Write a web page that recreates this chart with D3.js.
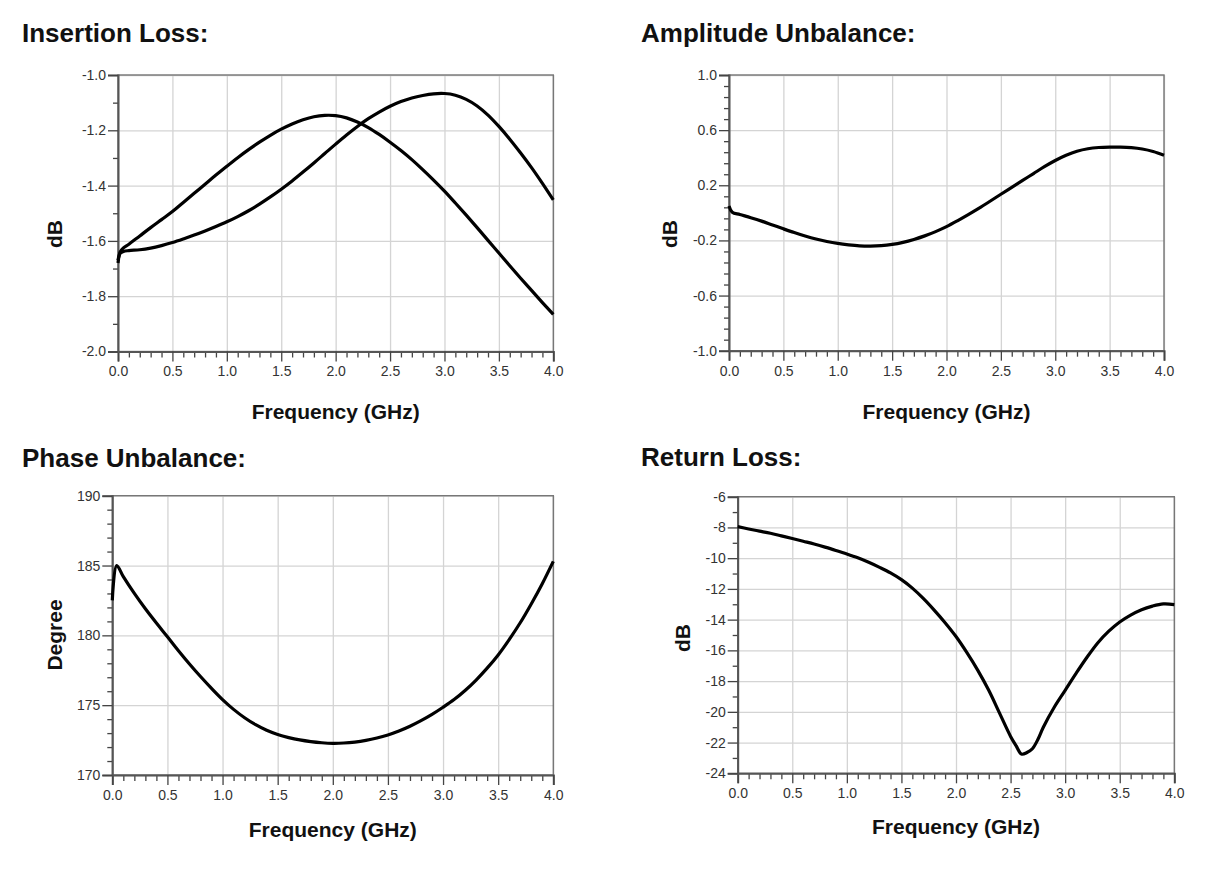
<!DOCTYPE html>
<html>
<head>
<meta charset="utf-8">
<script src="https://cdn.jsdelivr.net/npm/d3@7"></script>
<style>
  body { margin: 0; background: #fff; }
  svg { font-family: "Liberation Sans", Arial, sans-serif; }
  .tick text { fill: #333; font-size: 14px; }
  .title { font-size: 26px; font-weight: bold; fill: #111; }
  .axis-label { font-size: 21px; font-weight: bold; fill: #111; }
</style>
</head>
<body>
<div id="chart"></div>
<script>
// x ticks shared by all four panels
const freqMajor = [0.0, 0.5, 1.0, 1.5, 2.0, 2.5, 3.0, 3.5, 4.0];
const freqMinor = [0.1, 0.2, 0.3, 0.4, 0.6, 0.7, 0.8, 0.9, 1.1, 1.2, 1.3, 1.4, 1.6, 1.7, 1.8, 1.9,
  2.1, 2.2, 2.3, 2.4, 2.6, 2.7, 2.8, 2.9, 3.1, 3.2, 3.3, 3.4, 3.6, 3.7, 3.8, 3.9];

// Insertion loss (two outputs)
const ilFreq = [0, 0.02, 0.05, 0.1, 0.2, 0.3, 0.4, 0.5, 0.6, 0.7, 0.8, 0.9, 1.0, 1.1, 1.2, 1.3, 1.4,
  1.5, 1.6, 1.7, 1.8, 1.9, 2.0, 2.1, 2.2, 2.3, 2.4, 2.5, 2.6, 2.7, 2.8, 2.9, 3.0, 3.1, 3.2, 3.3, 3.4,
  3.5, 3.6, 3.7, 3.8, 3.9, 4.0];
const ilPortA = [-1.68, -1.64, -1.625, -1.612, -1.582, -1.552, -1.523, -1.494, -1.461, -1.428, -1.395,
  -1.362, -1.33, -1.299, -1.27, -1.243, -1.218, -1.196, -1.177, -1.162, -1.151, -1.146, -1.147, -1.155,
  -1.17, -1.19, -1.215, -1.243, -1.273, -1.306, -1.342, -1.38, -1.42, -1.463, -1.507, -1.552, -1.598,
  -1.644, -1.69, -1.735, -1.779, -1.823, -1.866];
const ilPortB = [-1.67, -1.645, -1.638, -1.635, -1.632, -1.626, -1.617, -1.606, -1.593, -1.579, -1.564,
  -1.548, -1.531, -1.512, -1.491, -1.467, -1.441, -1.413, -1.383, -1.351, -1.318, -1.284, -1.25, -1.217,
  -1.186, -1.158, -1.134, -1.113, -1.096, -1.083, -1.074, -1.068, -1.067, -1.073, -1.088, -1.112, -1.145,
  -1.186, -1.232, -1.282, -1.335, -1.392, -1.452];
const ilMajor = [-2.0, -1.8, -1.6, -1.4, -1.2, -1.0];
const ilMinor = [-1.9, -1.7, -1.5, -1.3, -1.1];

// Amplitude unbalance
const auFreq = [0, 0.03, 0.1, 0.2, 0.3, 0.4, 0.5, 0.6, 0.7, 0.8, 0.9, 1.0, 1.1, 1.2, 1.3, 1.4, 1.5,
  1.6, 1.7, 1.8, 1.9, 2.0, 2.1, 2.2, 2.3, 2.4, 2.5, 2.6, 2.7, 2.8, 2.9, 3.0, 3.1, 3.2, 3.3, 3.4, 3.5,
  3.6, 3.7, 3.8, 3.9, 4.0];
const auValues = [0.05, 0.005, -0.012, -0.035, -0.06, -0.088, -0.116, -0.143, -0.168, -0.19, -0.208,
  -0.222, -0.232, -0.239, -0.241, -0.238, -0.229, -0.214, -0.193, -0.167, -0.136, -0.10, -0.058,
  -0.013, 0.034, 0.084, 0.135, 0.185, 0.235, 0.285, 0.335, 0.38, 0.418, 0.447, 0.465, 0.474, 0.477,
  0.477, 0.473, 0.463, 0.445, 0.418];
const auMajor = [-1.0, -0.6, -0.2, 0.2, 0.6, 1.0];
const auMinor = [-0.92, -0.84, -0.76, -0.68, -0.52, -0.44, -0.36, -0.28, -0.12, -0.04, 0.04, 0.12,
  0.28, 0.36, 0.44, 0.52, 0.68, 0.76, 0.84, 0.92];

// Phase unbalance
const puFreq = [0, 0.04, 0.1, 0.2, 0.3, 0.4, 0.5, 0.6, 0.7, 0.8, 0.9, 1.0, 1.1, 1.2, 1.3, 1.4, 1.5,
  1.6, 1.7, 1.8, 1.9, 2.0, 2.1, 2.2, 2.3, 2.4, 2.5, 2.6, 2.7, 2.8, 2.9, 3.0, 3.1, 3.2, 3.3, 3.4, 3.5,
  3.6, 3.7, 3.8, 3.9, 4.0];
const puValues = [182.5, 185.0, 184.2, 183.0, 181.9, 180.88, 179.9, 178.9, 177.95, 177.05, 176.2,
  175.4, 174.7, 174.1, 173.6, 173.2, 172.9, 172.68, 172.51, 172.39, 172.31, 172.27, 172.29,
  172.36, 172.48, 172.65, 172.87, 173.15, 173.49, 173.89, 174.34, 174.85, 175.4, 176.05, 176.8,
  177.65, 178.6, 179.7, 180.9, 182.25, 183.7, 185.3];
const puMajor = [170, 175, 180, 185, 190];
const puMinor = [171, 172, 173, 174, 176, 177, 178, 179, 181, 182, 183, 184, 186, 187, 188, 189];

// Return loss
const rlFreq = [0, 0.1, 0.2, 0.3, 0.4, 0.5, 0.6, 0.7, 0.8, 0.9, 1.0, 1.1, 1.2, 1.3, 1.4, 1.5, 1.6,
  1.7, 1.8, 1.9, 2.0, 2.1, 2.2, 2.3, 2.4, 2.5, 2.55, 2.6, 2.65, 2.7, 2.75, 2.8, 2.9, 3.0, 3.1, 3.2,
  3.3, 3.4, 3.5, 3.6, 3.7, 3.8, 3.9, 4.0];
const rlValues = [-7.95, -8.1, -8.24, -8.38, -8.55, -8.72, -8.9, -9.08, -9.28, -9.5, -9.73, -9.98,
  -10.27, -10.6, -10.96, -11.4, -11.95, -12.62, -13.38, -14.2, -15.1, -16.15, -17.3, -18.6, -20.1,
  -21.6, -22.2, -22.75, -22.65, -22.4, -21.8, -21.0, -19.7, -18.6, -17.5, -16.45, -15.5, -14.75,
  -14.15, -13.7, -13.35, -13.12, -12.98, -13.02];
const rlMajor = [-24, -22, -20, -18, -16, -14, -12, -10, -8, -6];
const rlMinor = [-23, -21, -19, -17, -15, -13, -11, -9, -7];

const hyphen = fmt => d => fmt(d).replace("\u2212", "-");

const svg = d3.select("#chart")
  .append("svg")
  .attr("width", 1219)
  .attr("height", 872);

function drawPanel(p) {
  const w = p.width, h = p.height;
  const x = d3.scaleLinear().domain([0, 4]).range([0, w]);
  const y = d3.scaleLinear().domain(p.yDomain).range([h, 0]);

  svg.append("text").attr("class", "title")
    .attr("x", p.titleX).attr("y", p.titleY).text(p.title);

  const g = svg.append("g").attr("transform", `translate(${p.left},${p.top})`);

  // grid
  g.append("g")
    .attr("transform", `translate(0,${h})`)
    .call(d3.axisBottom(x).tickValues(freqMajor).tickSize(-h).tickFormat(""))
    .call(s => s.select(".domain").remove())
    .call(s => s.selectAll("line").attr("stroke", "#d4d4d4").attr("stroke-width", 1.3));
  g.append("g")
    .call(d3.axisLeft(y).tickValues(p.yMajor).tickSize(-w).tickFormat(""))
    .call(s => s.select(".domain").remove())
    .call(s => s.selectAll("line").attr("stroke", "#d4d4d4").attr("stroke-width", 1.3));

  // frame top/right
  g.append("rect")
    .attr("width", w).attr("height", h)
    .attr("fill", "none").attr("stroke", "#777").attr("stroke-width", 1.4);

  // minor ticks
  g.append("g")
    .attr("transform", `translate(0,${h})`)
    .call(d3.axisBottom(x).tickValues(freqMinor).tickSize(6).tickFormat(""))
    .call(s => s.select(".domain").remove())
    .call(s => s.selectAll("line").attr("stroke", "#444").attr("stroke-width", 1.3));
  g.append("g")
    .call(d3.axisLeft(y).tickValues(p.yMinor).tickSize(5).tickFormat(""))
    .call(s => s.select(".domain").remove())
    .call(s => s.selectAll("line").attr("stroke", "#444").attr("stroke-width", 1.3));

  // major axes
  g.append("g")
    .attr("transform", `translate(0,${h})`)
    .call(d3.axisBottom(x).tickValues(freqMajor).tickSize(10).tickPadding(5).tickFormat(d3.format(".1f")))
    .call(s => s.select(".domain").attr("stroke", "#555").attr("stroke-width", 2))
    .call(s => s.selectAll("line").attr("stroke", "#444").attr("stroke-width", 1.3));
  g.append("g")
    .call(d3.axisLeft(y).tickValues(p.yMajor).tickSize(10).tickPadding(2).tickFormat(p.yFormat))
    .call(s => s.select(".domain").attr("stroke", "#555").attr("stroke-width", 2))
    .call(s => s.selectAll("line").attr("stroke", "#444").attr("stroke-width", 1.3));

  // curves
  const line = d3.line()
    .x(d => x(d[0]))
    .y(d => y(d[1]))
    .curve(d3.curveCatmullRom.alpha(0.5));
  p.series.forEach(vals => {
    g.append("path")
      .datum(p.freq.map((f, i) => [f, vals[i]]))
      .attr("fill", "none")
      .attr("stroke", "#000")
      .attr("stroke-width", 3.2)
      .attr("stroke-linejoin", "round")
      .attr("d", line);
  });

  // axis labels
  svg.append("text").attr("class", "axis-label")
    .attr("x", p.left + w / 2).attr("y", p.xLabelY)
    .attr("text-anchor", "middle").text("Frequency (GHz)");
  svg.append("text").attr("class", "axis-label")
    .attr("transform", `translate(${p.yLabelX},${p.yLabelY}) rotate(-90)`)
    .attr("text-anchor", "middle").text(p.yLabel);
}

drawPanel({
  title: "Insertion Loss:", titleX: 22, titleY: 42,
  left: 118, top: 75, width: 435.3, height: 276.5,
  yDomain: [-2.0, -1.0], yMajor: ilMajor, yMinor: ilMinor, yFormat: hyphen(d3.format(".1f")),
  freq: ilFreq, series: [ilPortA, ilPortB],
  xLabelY: 419, yLabel: "dB", yLabelX: 62, yLabelY: 234
});
drawPanel({
  title: "Amplitude Unbalance:", titleX: 641, titleY: 42,
  left: 729, top: 75, width: 435, height: 275.7,
  yDomain: [-1.0, 1.0], yMajor: auMajor, yMinor: auMinor, yFormat: hyphen(d3.format(".1f")),
  freq: auFreq, series: [auValues],
  xLabelY: 419, yLabel: "dB", yLabelX: 677, yLabelY: 234
});
drawPanel({
  title: "Phase Unbalance:", titleX: 22, titleY: 467,
  left: 112.3, top: 495.7, width: 441, height: 279.3,
  yDomain: [170, 190], yMajor: puMajor, yMinor: puMinor, yFormat: hyphen(d3.format("d")),
  freq: puFreq, series: [puValues],
  xLabelY: 837, yLabel: "Degree", yLabelX: 62, yLabelY: 635
});
drawPanel({
  title: "Return Loss:", titleX: 641, titleY: 466,
  left: 737.7, top: 496.7, width: 436.6, height: 276.6,
  yDomain: [-24, -6], yMajor: rlMajor, yMinor: rlMinor, yFormat: hyphen(d3.format("d")),
  freq: rlFreq, series: [rlValues],
  xLabelY: 834, yLabel: "dB", yLabelX: 690, yLabelY: 638
});
</script>
</body>
</html>
